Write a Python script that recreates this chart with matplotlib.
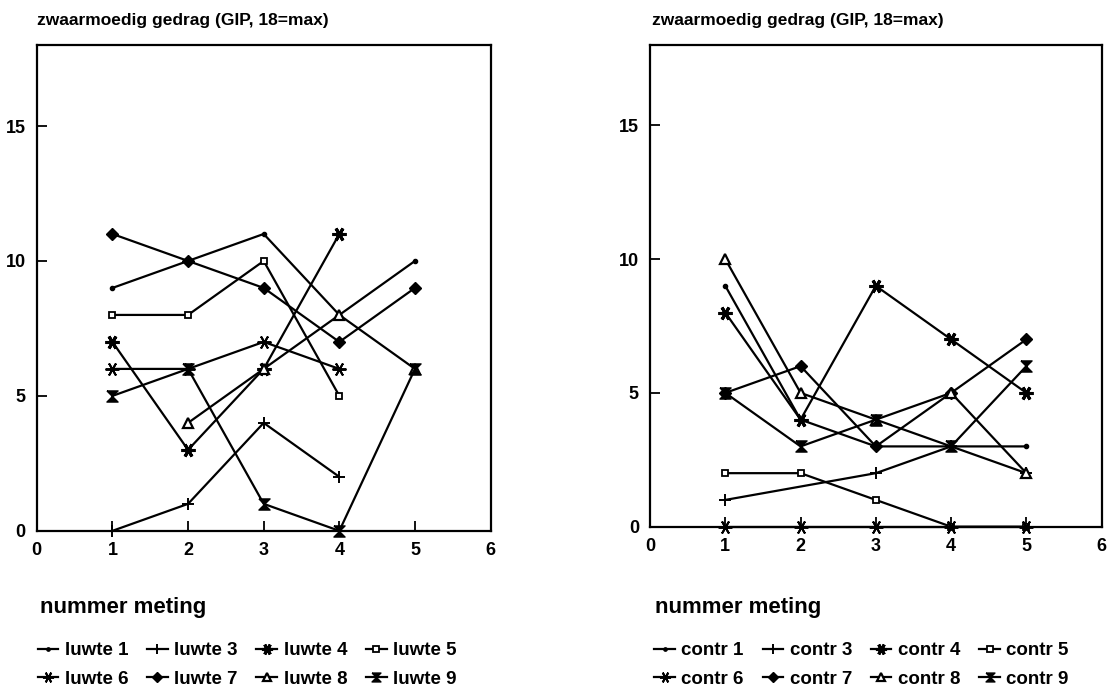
import numpy as np
import matplotlib
matplotlib.use("Agg")
import matplotlib.pyplot as plt
from matplotlib.lines import Line2D

plt.rcParams["font.family"] = ["Liberation Sans", "DejaVu Sans"]
plt.rcParams["font.weight"] = "bold"

nan = np.nan
meting = [1, 2, 3, 4, 5]

# GIP scores per person, luwte group
luwte_1 = [9, 10, 11, 8, 10]
luwte_3 = [0, 1, 4, 2, nan]
luwte_4 = [7, 3, 6, 11, nan]
luwte_5 = [8, 8, 10, 5, nan]
luwte_6 = [6, 6, 7, 6, nan]
luwte_7 = [11, 10, 9, 7, 9]
luwte_8 = [nan, 4, 6, 8, 6]
luwte_9 = [5, 6, 1, 0, 6]

# GIP scores per person, control group
contr_1 = [9, 4, 3, 3, 3]
contr_3 = [1, nan, 2, 3, 2]
contr_4 = [8, 4, 9, 7, 5]
contr_5 = [2, 2, 1, 0, 0]
contr_6 = [0, 0, 0, 0, 0]
contr_7 = [5, 6, 3, 5, 7]
contr_8 = [10, 5, 4, 5, 2]
contr_9 = [5, 3, 4, 3, 6]

person_ids = [1, 3, 4, 5, 6, 7, 8, 9]
title = "zwaarmoedig gedrag (GIP, 18=max)"
xlabel = "nummer meting"

# marker per person number
hourglass = [(-1, 1), (1, 1), (-1, -1), (1, -1), (-1, 1)]
STYLES = {
    1: dict(marker="o", ms=3, mfc="black", mew=1),
    3: dict(marker="+", ms=9, mfc="black", mew=1.4),
    4: dict(marker=(6, 2, 90), ms=10, mfc="black", mew=2.2),
    5: dict(marker="s", ms=5, mfc="white", mew=1.3),
    6: dict(marker=(6, 2, 90), ms=10, mfc="black", mew=1.4),
    7: dict(marker="D", ms=6, mfc="black", mew=1),
    8: dict(marker="^", ms=7, mfc="white", mew=1.6),
    9: dict(marker=hourglass, ms=8, mfc="black", mew=1),
}


def draw_panel(fig, rect, series, prefix, legend_anchor, label_xy, title_xy):
    ax = fig.add_axes(rect)
    x = np.array(meting, dtype=float)
    handles = []
    for pid, vals in zip(person_ids, series):
        y = np.array(vals, dtype=float)
        ok = ~np.isnan(y)
        st = STYLES[pid]
        ax.plot(x[ok], y[ok], color="black", lw=1.6, marker=st["marker"],
                ms=st["ms"], mfc=st["mfc"], mec="black", mew=st["mew"],
                clip_on=False, zorder=3)
        handles.append(Line2D([], [], color="black", lw=1.6, marker=st["marker"],
                              ms=st["ms"] * 0.8, mfc=st["mfc"], mec="black",
                              mew=st["mew"]))
    ax.set_xlim(0, 6)
    ax.set_ylim(0, 18)
    ax.set_xticks([0, 1, 2, 3, 4, 5, 6])
    ax.set_yticks([0, 5, 10, 15])
    ax.tick_params(direction="in", length=7, width=1.3, labelsize=13,
                   top=False, right=False, pad=8)
    for lab in ax.get_xticklabels() + ax.get_yticklabels():
        lab.set_fontweight("bold")
    for sp in ax.spines.values():
        sp.set_linewidth(1.6)

    labels = [f"{prefix} {p}" for p in person_ids]
    # fill the legend row by row (4 per row)
    order = [0, 4, 1, 5, 2, 6, 3, 7]
    fig.legend([handles[i] for i in order], [labels[i] for i in order],
               loc="upper left", bbox_to_anchor=legend_anchor, ncol=4,
               frameon=False, handlelength=1.1, handletextpad=0.35,
               columnspacing=1.0, labelspacing=0.6, borderaxespad=0,
               prop=dict(size=13.5, weight="bold"))
    fig.text(label_xy[0], label_xy[1], xlabel, fontsize=16, fontweight="bold",
             va="center", ha="left")
    fig.text(title_xy[0], title_xy[1], title, fontsize=12.5, fontweight="bold",
             va="center", ha="left")
    return ax


fig = plt.figure(figsize=(11.15, 6.93), dpi=100)

draw_panel(fig, [0.033, 0.234, 0.407, 0.701],
           [luwte_1, luwte_3, luwte_4, luwte_5, luwte_6, luwte_7, luwte_8, luwte_9],
           "luwte", (0.027, 0.084), (0.036, 0.124), (0.033, 0.971))
draw_panel(fig, [0.583, 0.240, 0.405, 0.695],
           [contr_1, contr_3, contr_4, contr_5, contr_6, contr_7, contr_8, contr_9],
           "contr", (0.580, 0.084), (0.587, 0.124), (0.585, 0.971))

plt.savefig("out.png", dpi=100)
plt.close()
